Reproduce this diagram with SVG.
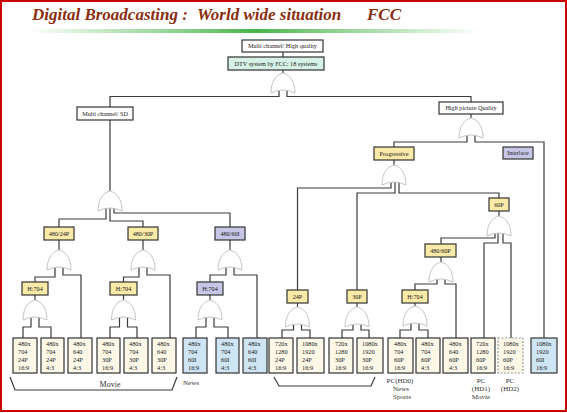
<svg xmlns="http://www.w3.org/2000/svg" xmlns:xlink="http://www.w3.org/1999/xlink" width="567" height="413" viewBox="0 0 567 413">
<style>
.bx{stroke:#333;stroke-width:1.2}
.w{fill:#fff}.y{fill:#faeaa8}.lv{fill:#c8c6e6}.mt{fill:#d6f1e5}.bl{fill:#cfe5f4}.cr{fill:#fcf8e8}
.t{font-family:"Liberation Serif",serif;font-size:6.2px;fill:#222;text-anchor:middle}
.bt{font-family:"Liberation Serif",serif;font-size:6.3px;fill:#222}
.lb{font-family:"Liberation Serif",serif;font-size:7px;fill:#333;text-anchor:middle}
.ttl{font-family:"Liberation Serif",serif;font-size:17px;font-weight:bold;font-style:italic;fill:#8a2e0e}
.c{fill:none;stroke:#3a3a3a;stroke-width:1.2}
.g{fill:#fff;stroke:#c4c4c4;stroke-width:1}
</style>
<defs>
<linearGradient id="grn" x1="0" x2="1" y1="0" y2="0">
<stop offset="0" stop-color="#5cbf5c" stop-opacity="0"/>
<stop offset="0.3" stop-color="#6cc46c" stop-opacity="0.7"/>
<stop offset="0.5" stop-color="#46b446"/>
<stop offset="0.7" stop-color="#6cc46c" stop-opacity="0.7"/>
<stop offset="1" stop-color="#5cbf5c" stop-opacity="0"/>
</linearGradient>
<path id="gate" d="M-12,20 C-12,7 -6,1.6 0,0 C6,1.6 12,7 12,20 Q0,14 -12,20 Z"/>
</defs>
<rect x="0" y="0" width="567" height="413" fill="#fff"/>
<rect x="1" y="1" width="565" height="410" fill="none" stroke="#cc0000" stroke-width="2"/>
<g id="title">
<text class="ttl" x="32" y="20">Digital Broadcasting :</text>
<text class="ttl" x="197" y="20">World wide situation</text>
<text class="ttl" x="367" y="20">FCC</text>
<rect x="30" y="29" width="450" height="4" fill="url(#grn)"/>
</g>
<g id="connectors" class="c">
<path d="M283,52 V57"/>
<path d="M283,70 V73"/>
<path d="M279,90 V96.5 H110 V107"/>
<path d="M287,90 V96.5 H471 V102"/>
<path d="M110,120 V191"/>
<path d="M106,208 V219 H59 V227"/>
<path d="M110,208 V221 H143 V227"/>
<path d="M114,208 V213 H230 V227"/>
<path d="M59,240 V250"/>
<path d="M55,267 V277 H35 V282"/>
<path d="M63,267 V275 H81 V338"/>
<path d="M143,240 V250"/>
<path d="M139,267 V277 H123.5 V282"/>
<path d="M147,267 V275 H170 V338"/>
<path d="M230,240 V250"/>
<path d="M226,267 V275 H210 V282"/>
<path d="M234,267 V275 H257 V338"/>
<path d="M35,295 V300"/>
<path d="M31,317 V327 H23 V338"/>
<path d="M39,317 V327 H51 V338"/>
<path d="M123.5,295 V300"/>
<path d="M119.5,317 V327 H110 V338"/>
<path d="M127.5,317 V327 H137 V338"/>
<path d="M210,295 V300"/>
<path d="M206,317 V327 H196 V338"/>
<path d="M214,317 V327 H228 V338"/>
<path d="M471,114 V118"/>
<path d="M467,135 V142 H394 V147"/>
<path d="M475,135 V142 H544 V338"/>
<path d="M394,160 V165"/>
<path d="M391,182 V188 H297.5 V290"/>
<path d="M395,182 V193 H357 V290"/>
<path d="M399,182 V193 H499 V198"/>
<path d="M297.5,303 V307"/>
<path d="M293.5,324 V330 H282 V338"/>
<path d="M301.5,324 V330 H310 V338"/>
<path d="M357,303 V307"/>
<path d="M353,324 V330 H342 V338"/>
<path d="M361,324 V330 H369 V338"/>
<path d="M499,211 V216"/>
<path d="M495,233 V238 H441 V244"/>
<path d="M498,233 V243 H484 V338"/>
<path d="M503,233 V243 H511 V338"/>
<path d="M441,257 V262"/>
<path d="M437,279 V284 H415 V290"/>
<path d="M445,279 V284 H456 V338"/>
<path d="M415,303 V306"/>
<path d="M411,323 V330 H400 V338"/>
<path d="M419,323 V330 H428 V338"/>
<path d="M10,377 L15,390 H172 L177,377"/>
<path d="M274,377 L279,386 H371 L375,377"/>
</g>
<g id="gates" class="g">
<use xlink:href="#gate" x="283" y="73"/>
<use xlink:href="#gate" x="110" y="191"/>
<use xlink:href="#gate" x="59" y="250"/>
<use xlink:href="#gate" x="143" y="250"/>
<use xlink:href="#gate" x="230" y="250"/>
<use xlink:href="#gate" x="35" y="300"/>
<use xlink:href="#gate" x="123.5" y="300"/>
<use xlink:href="#gate" x="210" y="300"/>
<use xlink:href="#gate" x="471" y="118"/>
<use xlink:href="#gate" x="394" y="165"/>
<use xlink:href="#gate" x="297.5" y="307"/>
<use xlink:href="#gate" x="357" y="307"/>
<use xlink:href="#gate" x="499" y="216"/>
<use xlink:href="#gate" x="441" y="262"/>
<use xlink:href="#gate" x="415" y="306"/>
</g>
<g id="n-mchq"><rect class="bx w" x="242" y="40" width="81" height="12"/><text class="t" x="282.5" y="48.2">Multi channel/ High quality</text></g>
<g id="n-dtv"><rect class="bx mt" x="228" y="57" width="96" height="13"/><text class="t" x="276" y="65.7">DTV system by FCC: 18 systems</text></g>
<g id="n-mcsd"><rect class="bx w" x="77" y="107" width="56" height="13"/><text class="t" x="105" y="115.7">Multi channel/ SD</text></g>
<g id="n-hpq"><rect class="bx w" x="439" y="102" width="64" height="12"/><text class="t" x="471" y="110.2">High picture Quality</text></g>
<g id="n-prog"><rect class="bx y" x="374" y="147" width="40" height="13"/><text class="t" x="394" y="155.7">Progressive</text></g>
<g id="n-inter"><rect class="bx lv" x="503" y="147" width="30" height="12"/><text class="t" x="518" y="155.2">Interlace</text></g>
<g id="n-480-24p"><rect class="bx y" x="44" y="227" width="30" height="13"/><text class="t" x="59" y="235.7">480/24P</text></g>
<g id="n-480-30p"><rect class="bx y" x="128" y="227" width="30" height="13"/><text class="t" x="143" y="235.7">480/30P</text></g>
<g id="n-480-60i"><rect class="bx lv" x="215" y="227" width="30" height="13"/><text class="t" x="230" y="235.7">480/60I</text></g>
<g id="n-h704a"><rect class="bx y" x="22" y="282" width="26" height="13"/><text class="t" x="35" y="290.7">H:704</text></g>
<g id="n-h704b"><rect class="bx y" x="110" y="282" width="27" height="13"/><text class="t" x="123.5" y="290.7">H:704</text></g>
<g id="n-h704c"><rect class="bx lv" x="197" y="282" width="26" height="13"/><text class="t" x="210" y="290.7">H:704</text></g>
<g id="n-24p"><rect class="bx y" x="287" y="290" width="21" height="13"/><text class="t" x="297.5" y="298.7">24P</text></g>
<g id="n-30p"><rect class="bx y" x="347" y="290" width="20" height="13"/><text class="t" x="357" y="298.7">30P</text></g>
<g id="n-60p"><rect class="bx y" x="489" y="198" width="20" height="13"/><text class="t" x="499" y="206.7">60P</text></g>
<g id="n-480-60p"><rect class="bx y" x="425" y="244" width="31" height="13"/><text class="t" x="440.5" y="252.7">480/60P</text></g>
<g id="n-h704d"><rect class="bx y" x="402" y="290" width="26" height="13"/><text class="t" x="415" y="298.7">H:704</text></g>
<g id="b1"><rect class="bx cr" x="13" y="338" width="24" height="35"/><text class="bt" y="345.5"><tspan x="18">480x</tspan><tspan x="18" dy="8">704</tspan><tspan x="18" dy="8">24P</tspan><tspan x="18" dy="8">16:9</tspan></text></g>
<g id="b2"><rect class="bx cr" x="41" y="338" width="23" height="35"/><text class="bt" y="345.5"><tspan x="46">480x</tspan><tspan x="46" dy="8">704</tspan><tspan x="46" dy="8">24P</tspan><tspan x="46" dy="8">4:3</tspan></text></g>
<g id="b3"><rect class="bx cr" x="68" y="338" width="24" height="35"/><text class="bt" y="345.5"><tspan x="73">480x</tspan><tspan x="73" dy="8">640</tspan><tspan x="73" dy="8">24P</tspan><tspan x="73" dy="8">4:3</tspan></text></g>
<g id="b4"><rect class="bx cr" x="97" y="338" width="23" height="35"/><text class="bt" y="345.5"><tspan x="102">480x</tspan><tspan x="102" dy="8">704</tspan><tspan x="102" dy="8">30P</tspan><tspan x="102" dy="8">16:9</tspan></text></g>
<g id="b5"><rect class="bx cr" x="124" y="338" width="24" height="35"/><text class="bt" y="345.5"><tspan x="129">480x</tspan><tspan x="129" dy="8">704</tspan><tspan x="129" dy="8">30P</tspan><tspan x="129" dy="8">4:3</tspan></text></g>
<g id="b6"><rect class="bx cr" x="152" y="338" width="24" height="35"/><text class="bt" y="345.5"><tspan x="157">480x</tspan><tspan x="157" dy="8">640</tspan><tspan x="157" dy="8">30P</tspan><tspan x="157" dy="8">4:3</tspan></text></g>
<g id="b7"><rect class="bx bl" x="183" y="338" width="24" height="35"/><text class="bt" y="345.5"><tspan x="188">480x</tspan><tspan x="188" dy="8">704</tspan><tspan x="188" dy="8">60I</tspan><tspan x="188" dy="8">16:9</tspan></text></g>
<g id="b8"><rect class="bx bl" x="216" y="338" width="23" height="35"/><text class="bt" y="345.5"><tspan x="221">480x</tspan><tspan x="221" dy="8">704</tspan><tspan x="221" dy="8">60I</tspan><tspan x="221" dy="8">4:3</tspan></text></g>
<g id="b9"><rect class="bx bl" x="243" y="338" width="24" height="35"/><text class="bt" y="345.5"><tspan x="248">480x</tspan><tspan x="248" dy="8">640</tspan><tspan x="248" dy="8">60I</tspan><tspan x="248" dy="8">4:3</tspan></text></g>
<g id="b10"><rect class="bx cr" x="269" y="338" width="24" height="35"/><text class="bt" y="345.5"><tspan x="275">720x</tspan><tspan x="275" dy="8">1280</tspan><tspan x="275" dy="8">24P</tspan><tspan x="275" dy="8">16:9</tspan></text></g>
<g id="b11"><rect class="bx cr" x="297" y="338" width="27" height="35"/><text class="bt" y="345.5"><tspan x="302">1080x</tspan><tspan x="302" dy="8">1920</tspan><tspan x="302" dy="8">24P</tspan><tspan x="302" dy="8">16:9</tspan></text></g>
<g id="b12"><rect class="bx cr" x="329" y="338" width="24" height="35"/><text class="bt" y="345.5"><tspan x="335">720x</tspan><tspan x="335" dy="8">1280</tspan><tspan x="335" dy="8">30P</tspan><tspan x="335" dy="8">16:9</tspan></text></g>
<g id="b13"><rect class="bx cr" x="357" y="338" width="26" height="35"/><text class="bt" y="345.5"><tspan x="362">1080x</tspan><tspan x="362" dy="8">1920</tspan><tspan x="362" dy="8">30P</tspan><tspan x="362" dy="8">16:9</tspan></text></g>
<g id="b14"><rect class="bx cr" x="388" y="338" width="25" height="35"/><text class="bt" y="345.5"><tspan x="394">480x</tspan><tspan x="394" dy="8">704</tspan><tspan x="394" dy="8">60P</tspan><tspan x="394" dy="8">16:9</tspan></text></g>
<g id="b15"><rect class="bx cr" x="416" y="338" width="24" height="35"/><text class="bt" y="345.5"><tspan x="421">480x</tspan><tspan x="421" dy="8">704</tspan><tspan x="421" dy="8">60P</tspan><tspan x="421" dy="8">4:3</tspan></text></g>
<g id="b16"><rect class="bx cr" x="443" y="338" width="25" height="35"/><text class="bt" y="345.5"><tspan x="449">480x</tspan><tspan x="449" dy="8">640</tspan><tspan x="449" dy="8">60P</tspan><tspan x="449" dy="8">4:3</tspan></text></g>
<g id="b17"><rect class="bx cr" x="471" y="338" width="24" height="35"/><text class="bt" y="345.5"><tspan x="476">720x</tspan><tspan x="476" dy="8">1280</tspan><tspan x="476" dy="8">60P</tspan><tspan x="476" dy="8">16:9</tspan></text></g>
<g id="b18"><rect x="498" y="338" width="25" height="35" fill="#fcf8e8" stroke="#999" stroke-width="1.2" stroke-dasharray="2,1.5"/><text class="bt" y="345.5"><tspan x="503">1080x</tspan><tspan x="503" dy="8">1920</tspan><tspan x="503" dy="8">60P</tspan><tspan x="503" dy="8">16:9</tspan></text></g>
<g id="b19"><rect class="bx bl" x="531" y="338" width="26" height="35"/><text class="bt" y="345.5"><tspan x="536">1080x</tspan><tspan x="536" dy="8">1920</tspan><tspan x="536" dy="8">60I</tspan><tspan x="536" dy="8">16:9</tspan></text></g>
<g id="labels">
<text class="lb" x="110" y="387" style="font-size:8px">Movie</text>
<text class="lb" x="191" y="385" >News</text>
<text class="lb" x="400" y="383">PC(HD0)</text>
<text class="lb" x="401" y="391">News</text>
<text class="lb" x="402" y="399">Sports</text>
<text class="lb" x="481" y="383">PC</text>
<text class="lb" x="481" y="391">(HD1)</text>
<text class="lb" x="481" y="399">Movie</text>
<text class="lb" x="510" y="383">PC</text>
<text class="lb" x="510" y="391">(HD2)</text>
</g>
</svg>
